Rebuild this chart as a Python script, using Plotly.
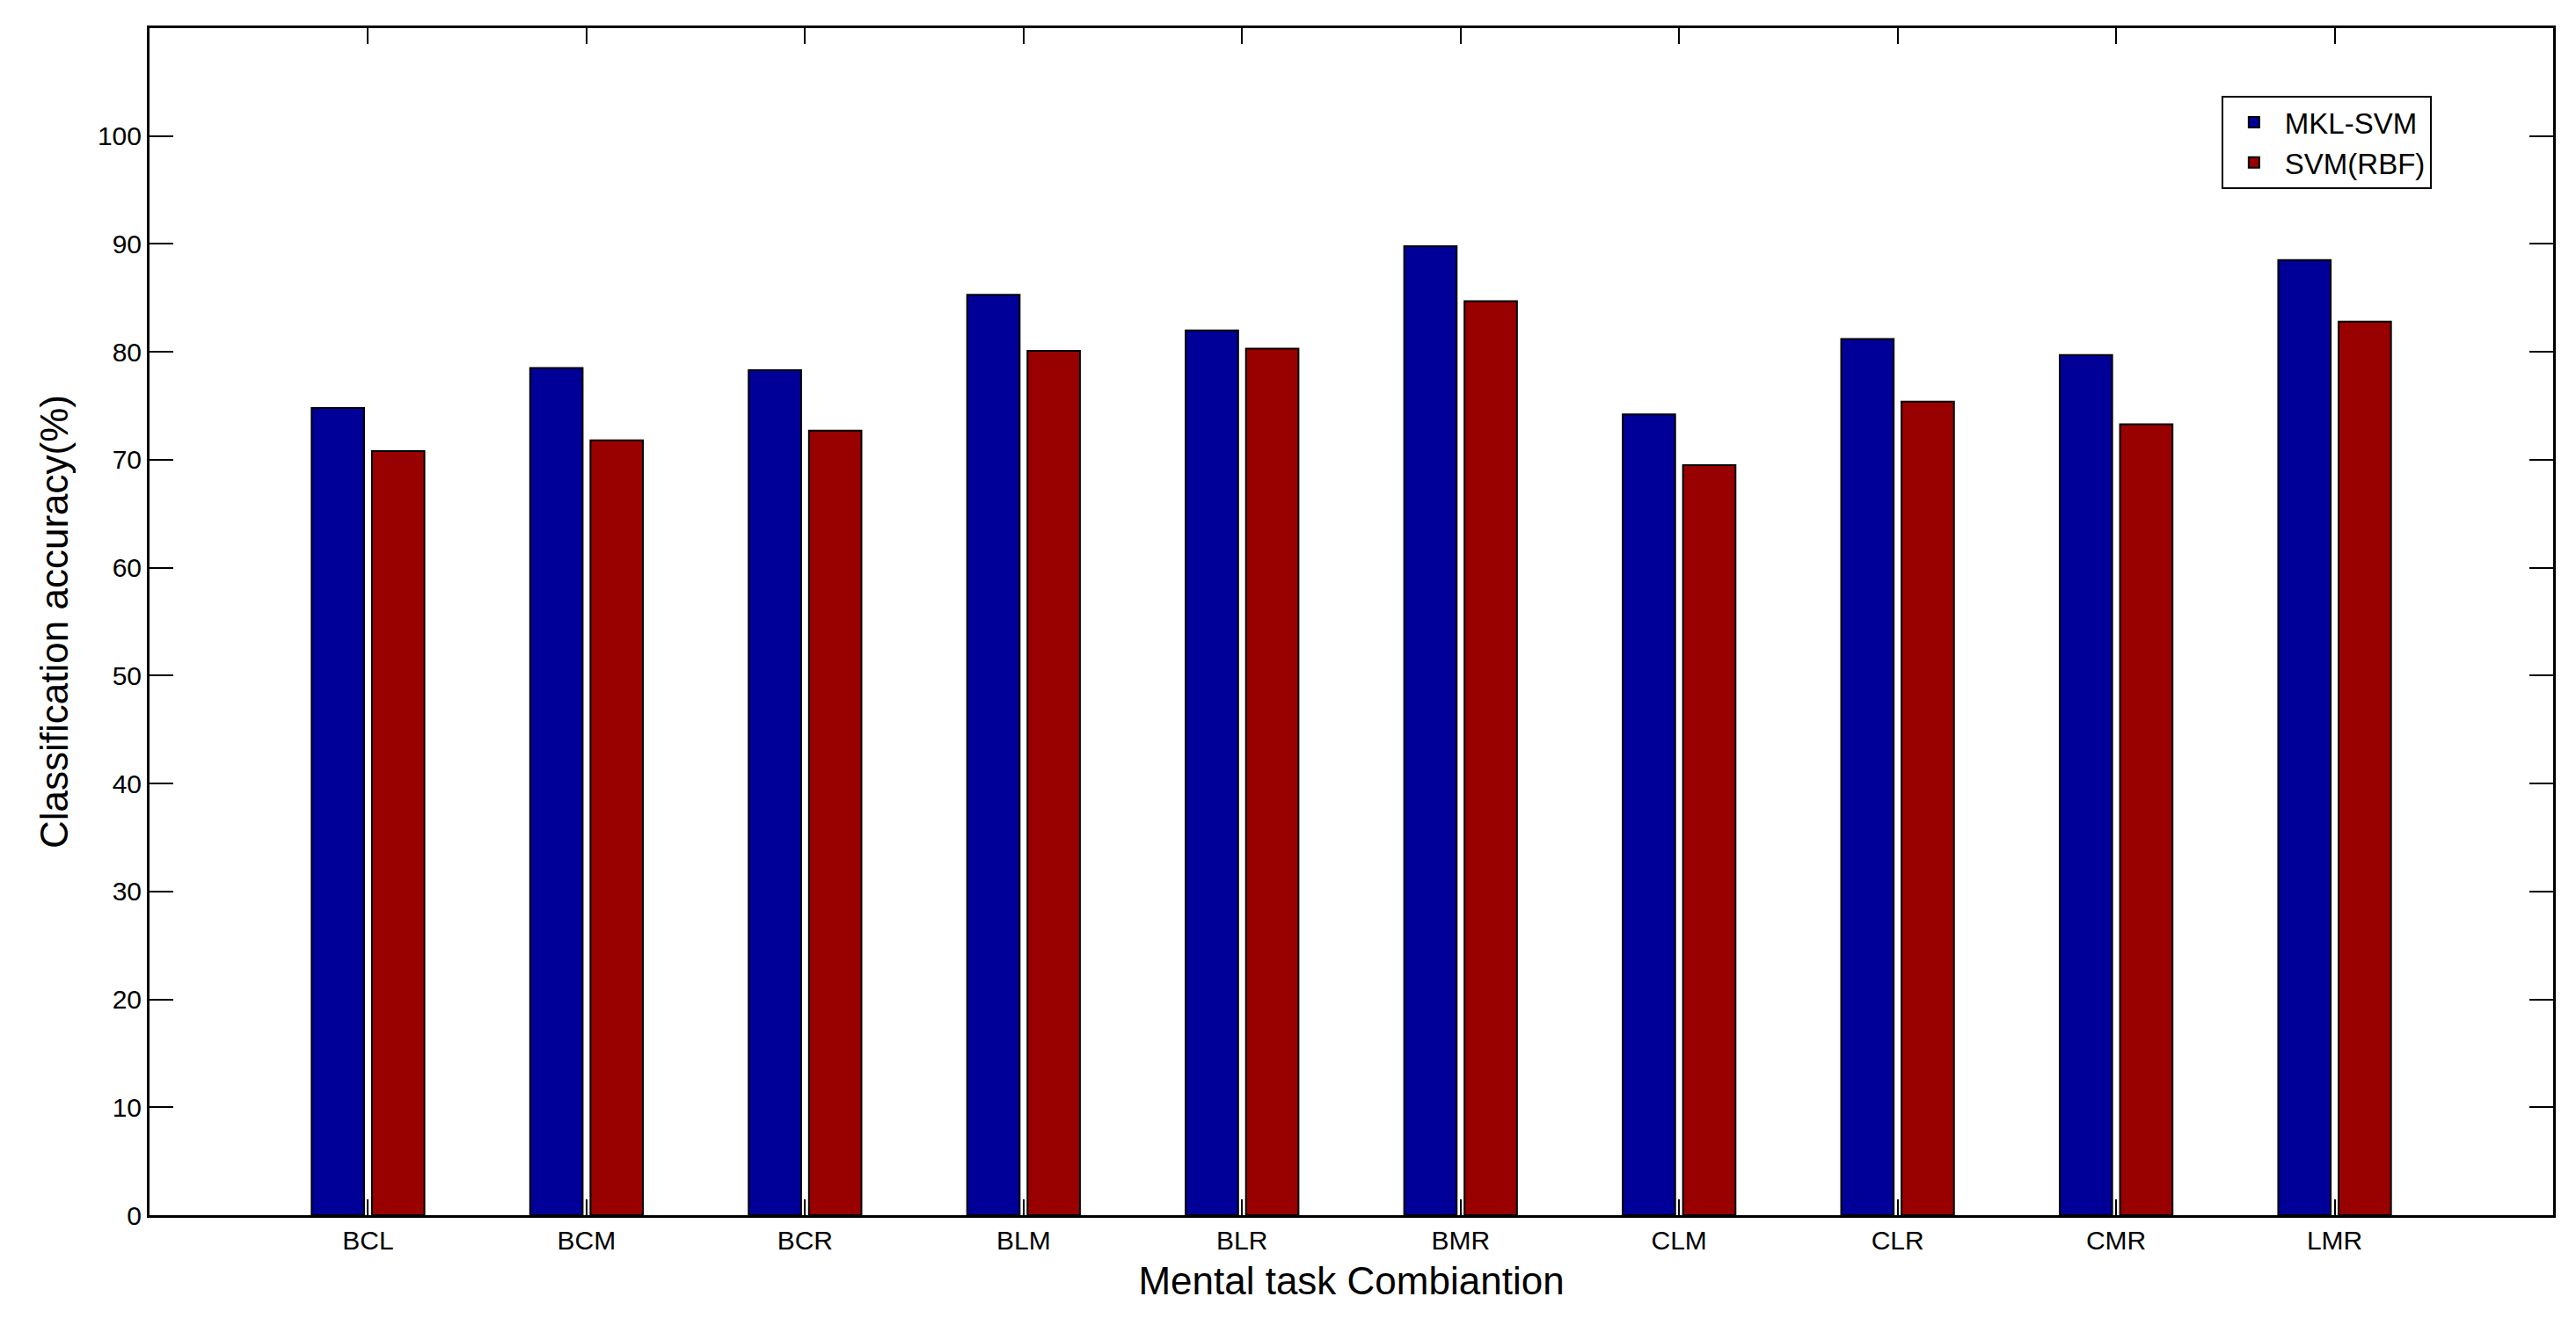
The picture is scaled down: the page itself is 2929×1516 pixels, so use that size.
import plotly.graph_objects as go

categories = ["BCL", "BCM", "BCR", "BLM", "BLR", "BMR", "CLM", "CLR", "CMR", "LMR"]
mkl_svm = [74.8, 78.5, 78.3, 85.3, 82.0, 89.8, 74.2, 81.2, 79.7, 88.5]
svm_rbf = [70.8, 71.8, 72.7, 80.1, 80.3, 84.7, 69.5, 75.4, 73.3, 82.8]
y_ticks = [0, 10, 20, 30, 40, 50, 60, 70, 80, 90, 100]

x_pos = list(range(1, len(categories) + 1))

fig = go.Figure()
fig.add_trace(go.Bar(x=x_pos, y=mkl_svm, name="MKL-SVM",
                     marker=dict(color="rgb(0,0,153)", line=dict(color="black", width=2))))
fig.add_trace(go.Bar(x=x_pos, y=svm_rbf, name="SVM(RBF)",
                     marker=dict(color="rgb(153,0,0)", line=dict(color="black", width=2))))

tick_font = dict(family="Liberation Sans Narrow, Arial Narrow, Liberation Sans, Arial", size=30, color="black")

fig.update_layout(
    width=2929, height=1516,
    barmode="group", bargap=0.448, bargroupgap=0.13,
    plot_bgcolor="white", paper_bgcolor="white",
    margin=dict(l=162, r=34, t=24, b=142),
    font=dict(family="Liberation Sans, Arial", color="black"),
    legend=dict(x=0.862, y=0.943, xanchor="left", yanchor="top",
                bgcolor="white", bordercolor="black", borderwidth=2,
                font=dict(family="Liberation Sans, Arial", size=33, color="black"),
                itemwidth=60, tracegroupgap=4),
    xaxis=dict(range=[0, 11], tickmode="array", tickvals=x_pos, ticktext=categories,
               ticks="inside", ticklen=18, tickwidth=2, tickcolor="black",
               showline=True, linecolor="black", linewidth=3, mirror="ticks",
               showgrid=False, zeroline=False, tickfont=tick_font,
               title=dict(text="Mental task Combiantion", standoff=16,
                          font=dict(family="Liberation Sans, Arial", size=44, color="black"))),
    yaxis=dict(range=[0, 110], tickmode="array", tickvals=y_ticks,
               ticks="inside", ticklen=27, tickwidth=2, tickcolor="black",
               showline=True, linecolor="black", linewidth=3, mirror="ticks",
               showgrid=False, zeroline=False, tickfont=tick_font,
               title=dict(text="Classification accuracy(%)", standoff=20,
                          font=dict(family="Liberation Sans, Arial", size=44, color="black"))),
)

fig.write_html("out.html")
